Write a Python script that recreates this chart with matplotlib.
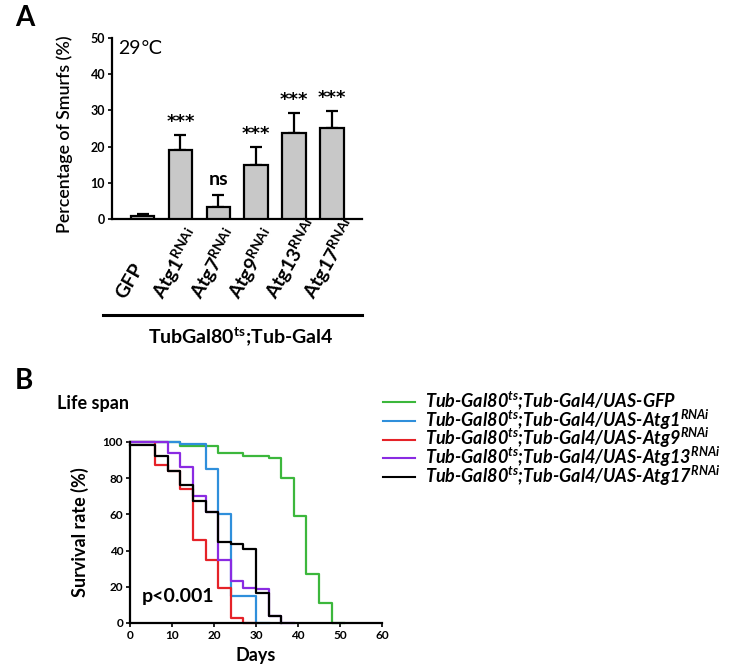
import matplotlib
matplotlib.use("Agg")
import matplotlib.pyplot as plt
from matplotlib.lines import Line2D
import numpy as np

plt.rcParams['font.family'] = ['Lato', 'DejaVu Sans']
plt.rcParams['mathtext.fontset'] = 'custom'
plt.rcParams['mathtext.rm'] = 'Lato'
plt.rcParams['mathtext.bf'] = 'Lato:bold'
plt.rcParams['mathtext.it'] = 'Lato:italic:bold'

# ---- panel A data ----
genotypes = ["GFP", "Atg1", "Atg7", "Atg9", "Atg13", "Atg17"]
smurf_pct = [0.7, 19.1, 3.3, 15.0, 23.7, 25.0]
smurf_err = [0.8, 4.2, 3.4, 5.0, 5.5, 4.9]
signif = ["", "***", "ns", "***", "***", "***"]

# ---- panel B data (survival, %) ----
gfp_days = [0, 12, 21, 27, 33, 36, 39, 42, 45, 48, 51]
gfp_surv = [100, 98, 94, 92, 91, 80, 59, 27, 11, 0, 0]
atg1_days = [0, 12, 18, 21, 24, 30, 33]
atg1_surv = [100, 99, 85, 60, 15, 0, 0]
atg9_days = [0, 6, 9, 12, 15, 18, 21, 24, 27, 30]
atg9_surv = [100, 87, 84, 74, 46, 35, 19.5, 2.5, 0, 0]
atg13_days = [0, 9, 12, 15, 18, 21, 24, 27, 30, 33, 36, 39]
atg13_surv = [100, 94, 86, 70, 61.5, 35, 23, 19.5, 18.5, 3.7, 0, 0]
atg17_days = [0, 6, 9, 12, 15, 18, 21, 24, 27, 30, 33, 36]
atg17_surv = [98.5, 92, 84, 76, 67.5, 61.5, 45, 43.5, 41, 16.5, 3.7, 0]

legend_labels = [
    "Tub-Gal80$^{ts}$;Tub-Gal4/UAS-GFP",
    "Tub-Gal80$^{ts}$;Tub-Gal4/UAS-Atg1$^{RNAi}$",
    "Tub-Gal80$^{ts}$;Tub-Gal4/UAS-Atg9$^{RNAi}$",
    "Tub-Gal80$^{ts}$;Tub-Gal4/UAS-Atg13$^{RNAi}$",
    "Tub-Gal80$^{ts}$;Tub-Gal4/UAS-Atg17$^{RNAi}$",
]
colors = ["#3cb73c", "#2f8fdb", "#e52228", "#8a2be2", "#000000"]

W, H = 739, 668
fig = plt.figure(figsize=(W / 100, H / 100), dpi=100)

# ================= A =================
axA = fig.add_axes([0.1516, 0.6722, 0.3383, 0.2709])
x = np.arange(len(genotypes))
axA.bar(x, smurf_pct, width=0.62, color="#c8c8c8", edgecolor="black",
        linewidth=1.6, zorder=3)
axA.errorbar(x, smurf_pct, yerr=[np.zeros(len(x)), smurf_err], fmt="none",
             ecolor="black", elinewidth=1.6, capsize=4, capthick=1.6, zorder=2)
for i in range(len(x)):
    if signif[i] == "***":
        axA.text(x[i], smurf_pct[i] + smurf_err[i] + 3.6, signif[i],
                 ha="center", va="center", fontsize=13, fontweight="bold",
                 family="DejaVu Sans")
    elif signif[i]:
        axA.text(x[i], smurf_pct[i] + smurf_err[i] + 4.2, signif[i],
                 ha="center", va="center", fontsize=14, fontweight="bold")
axA.set_xlim(-0.81, 5.8)
axA.set_ylim(0, 50)
axA.set_yticks([0, 10, 20, 30, 40, 50])
axA.set_xticks([])
for s in ["top", "right"]:
    axA.spines[s].set_visible(False)
for s in ["left", "bottom"]:
    axA.spines[s].set_linewidth(1.6)
axA.tick_params(axis="y", direction="out", length=3, width=1.2, pad=2, labelsize=9)
for lab in axA.get_yticklabels():
    lab.set_fontweight("bold")
axA.set_ylabel("Percentage of Smurfs (%)", fontsize=12.8, fontweight="semibold")
axA.yaxis.set_label_coords(-0.156, 0.47)
axA.text(0.025, 0.94, "29℃", transform=axA.transAxes, fontsize=14,
         ha="left", va="center")

for i, g in enumerate(genotypes):
    lab = g if g == "GFP" else g + r"$^{\mathbf{RNAi}}$"
    axA.text(x[i] - 0.45, -0.45, lab, transform=axA.get_xaxis_transform(),
             rotation=60, rotation_mode="anchor", ha="left", va="baseline",
             fontsize=14, fontweight="bold")

axA.plot([-0.036, 1.0], [-0.53, -0.53], transform=axA.transAxes,
         color="black", lw=2.2, clip_on=False)
axA.text(0.515, -0.65, r"TubGal80$^{\mathbf{ts}}$;Tub-Gal4", transform=axA.transAxes,
         ha="center", va="center", fontsize=14, fontweight="bold")

fig.text(15 / W, 1 - 18 / H, "A", fontsize=20, fontweight="bold",
         ha="left", va="center")

# ================= B =================
axB = fig.add_axes([0.1759, 0.0674, 0.3410, 0.2710])
curves = [(gfp_days, gfp_surv), (atg1_days, atg1_surv), (atg9_days, atg9_surv),
          (atg13_days, atg13_surv), (atg17_days, atg17_surv)]
for (d, s), c in zip(curves, colors):
    axB.step(d, s, where="post", color=c, lw=1.6, clip_on=False)
axB.set_xlim(0, 60)
axB.set_ylim(0, 100)
axB.set_xticks(range(0, 61, 10))
axB.set_yticks(range(0, 101, 20))
for s in ["top", "right"]:
    axB.spines[s].set_visible(False)
for s in ["left", "bottom"]:
    axB.spines[s].set_linewidth(1.6)
axB.tick_params(direction="out", length=3, width=1.2, pad=2, labelsize=8.5)
for lab in axB.get_xticklabels() + axB.get_yticklabels():
    lab.set_fontweight("bold")
axB.set_ylabel("Survival rate (%)", fontsize=13, fontweight="bold")
axB.yaxis.set_label_coords(-0.163, 0.5)
axB.set_xlabel("Days", fontsize=13, fontweight="bold")
axB.xaxis.set_label_coords(0.5, -0.13)
axB.text(2.9, 14.4, "p<0.001", fontsize=14, fontweight="bold",
         ha="left", va="center")

fig.text(57 / W, 1 - 403 / H, "Life span", fontsize=13, fontweight="bold",
         ha="left", va="center")
fig.text(15 / W, 1 - 381 / H, "B", fontsize=20, fontweight="bold",
         ha="left", va="center")

# legend drawn by hand so rows keep the reference spacing
row_y = [402, 421, 439.5, 458, 477]
for yy, c, lab in zip(row_y, colors, legend_labels):
    fig.add_artist(Line2D([383 / W, 415 / W], [1 - yy / H, 1 - yy / H],
                          color=c, lw=1.5, transform=fig.transFigure))
    fig.text(425 / W, 1 - (yy + 5.5) / H, lab, fontsize=13, fontweight="bold",
             fontstyle="italic", ha="left", va="baseline")

fig.savefig("out.png", dpi=100)
